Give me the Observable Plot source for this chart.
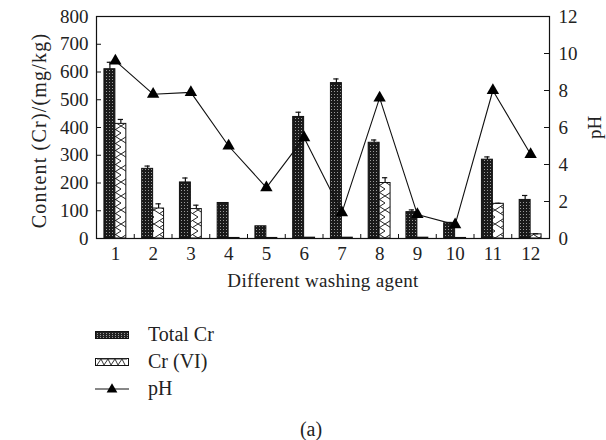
<!DOCTYPE html>
<html>
<head>
<meta charset="utf-8">
<script src="https://cdn.jsdelivr.net/npm/d3@7"></script>
<script src="https://cdn.jsdelivr.net/npm/@observablehq/plot@0.6"></script>
<style>
  body { margin: 0; background: #fff; font-family: "Liberation Serif", serif; }
  #chart { width: 606px; height: 300px; }
  #chart > svg { display: block; }
  .legend { margin-left: 95px; margin-top: 21px; font-size: 20px; color: #222; }
  .legend .row { display: flex; align-items: center; height: 27px; }
  .legend .sw { display: block; margin-right: 19px; }
  .caption { margin-top: 15px; width: 606px; height: 24px; line-height: 24px; text-align: center; font-size: 20px; color: #222; padding-left: 16px; box-sizing: border-box; }
  #err { color: red; font-size: 11px; }
</style>
</head>
<body>
<div id="chart"></div>
<div class="legend" id="legend"></div>
<div class="caption">(a)</div>
<div id="err"></div>
<script>
// ---- data ----
const agents   = [1, 2, 3, 4, 5, 6, 7, 8, 9, 10, 11, 12];
const totalCr  = [610, 251, 202, 128, 44, 438, 560, 345, 95, 55, 284, 139];
const totalErr = [25, 10, 16, 2, 2, 17, 15, 10, 8, 3, 10, 16];
const crVI     = [413, 108, 106, 2, 2, 3, 3, 200, 3, 2, 125, 15];
const crVIErr  = [16, 17, 14, 0, 0, 0, 0, 19, 0, 0, 2, 2];
const pH       = [9.6, 7.8, 7.9, 5.0, 2.75, 5.45, 1.4, 7.6, 1.3, 0.75, 8.0, 4.55];
const leftTicks  = [0, 100, 200, 300, 400, 500, 600, 700, 800];
const rightTicks = [0, 2, 4, 6, 8, 10, 12];
const legendLabels = ["Total Cr", "Cr (VI)", "pH"];

try {
const yMax = 800, pHMax = 12;
const k = yMax / pHMax;           // pH -> content axis mapping
const bw = 0.29;                  // bar width in category units
const capW = 0.07;

const rows = agents.map((a, i) => ({
  a, total: totalCr[i], tErr: totalErr[i], vi: crVI[i], vErr: crVIErr[i], ph: pH[i]
}));

const tickLx = 5 / 37.75, tickLy = 4 / (222 / 800);

const plot = Plot.plot({
  width: 606,
  height: 300,
  marginTop: 16,
  marginBottom: 62,
  marginLeft: 96,
  marginRight: 57,
  style: { fontFamily: "Liberation Serif, serif", fontSize: "19px", color: "#222", background: "white" },
  x: { domain: [0.5, 12.5], axis: null },
  y: { domain: [0, yMax], axis: null },
  marks: [
    Plot.rectY(rows, { x1: d => d.a - bw, x2: d => d.a, y1: 0, y2: "total", fill: "url(#dots)", stroke: "#111", strokeWidth: 1 }),
    Plot.rectY(rows, { x1: d => d.a, x2: d => d.a + bw, y1: 0, y2: "vi", fill: "url(#zig)", stroke: "#111", strokeWidth: 1 }),
    Plot.ruleX(rows.filter(d => d.tErr > 2), { x: d => d.a - bw / 2, y1: "total", y2: d => d.total + d.tErr, stroke: "#111", strokeWidth: 1.2 }),
    Plot.ruleY(rows.filter(d => d.tErr > 2), { y: d => d.total + d.tErr, x1: d => d.a - bw / 2 - capW, x2: d => d.a - bw / 2 + capW, stroke: "#111", strokeWidth: 1.2 }),
    Plot.ruleX(rows.filter(d => d.vErr > 1), { x: d => d.a + bw / 2, y1: "vi", y2: d => d.vi + d.vErr, stroke: "#111", strokeWidth: 1.2 }),
    Plot.ruleY(rows.filter(d => d.vErr > 1), { y: d => d.vi + d.vErr, x1: d => d.a + bw / 2 - capW, x2: d => d.a + bw / 2 + capW, stroke: "#111", strokeWidth: 1.2 }),
    Plot.line(rows, { x: "a", y: d => d.ph * k, stroke: "#111", strokeWidth: 1.1 }),
    Plot.dot(rows, { x: "a", y: d => d.ph * k, symbol: "triangle", r: 4.6, fill: "#000", stroke: "none" }),
    Plot.frame({ stroke: "#111", strokeWidth: 1.2 }),
    Plot.ruleY(leftTicks, { y: d => d, x1: 0.5, x2: 0.5 + tickLx, stroke: "#111" }),
    Plot.ruleY(rightTicks, { y: d => d * k, x1: 12.5 - tickLx, x2: 12.5, stroke: "#111" }),
    Plot.ruleX(agents.slice(0, -1), { x: d => d + 0.5, y1: 0, y2: tickLy, stroke: "#111" }),
    Plot.text(leftTicks, { x: 0.5, y: d => d, text: d => String(d), textAnchor: "end", dx: -8, fill: "#222" }),
    Plot.text(rightTicks, { x: 12.5, y: d => d * k, text: d => String(d), textAnchor: "start", dx: 9, fill: "#222" }),
    Plot.text(agents, { x: d => d, y: 0, text: d => String(d), dy: 15, fill: "#222" }),
    Plot.text(["Different washing agent"], { frameAnchor: "bottom", textAnchor: "middle", dy: 48, fill: "#222", className: "xlab" }),
    Plot.text(["Content (Cr)/(mg/kg)"], { frameAnchor: "left", textAnchor: "middle", dx: -57, dy: 3, rotate: -90, fill: "#222", fontSize: 20, className: "ylab" }),
    Plot.text(["pH"], { frameAnchor: "right", textAnchor: "middle", dx: 45, rotate: -90, fill: "#222" })
  ]
});

const svg = d3.select(plot);
svg.selectAll("g.ylab text").style("letter-spacing", "1.2px");
svg.selectAll("g.xlab text").style("letter-spacing", "0.35px");
const defs = svg.insert("defs", ":first-child");
const p1 = defs.append("pattern").attr("id", "dots").attr("patternUnits", "userSpaceOnUse").attr("width", 3).attr("height", 3);
p1.append("rect").attr("width", 3).attr("height", 3).attr("fill", "#1a1a1a");
p1.append("rect").attr("x", 1).attr("y", 1).attr("width", 1).attr("height", 1).attr("fill", "#9a9a9a");
const p2 = defs.append("pattern").attr("id", "zig").attr("patternUnits", "userSpaceOnUse").attr("width", 11).attr("height", 14);
p2.append("rect").attr("width", 11).attr("height", 14).attr("fill", "#fff");
p2.append("path").attr("d", "M0,0 L11,7 L0,14 M11,0 L5.5,3.5 M11,14 L5.5,10.5").attr("stroke", "#222").attr("stroke-width", 1).attr("fill", "none");

document.getElementById("chart").appendChild(plot);

// legend
const legend = document.getElementById("legend");
const kinds = ["dots", "zig", "line"];
legendLabels.forEach((label, i) => {
  const kind = kinds[i];
  const row = document.createElement("div");
  row.className = "row";
  const s = d3.create("svg").attr("class", "sw").attr("width", 34).attr("height", 14);
  if (kind === "line") {
    s.append("line").attr("x1", 0).attr("x2", 34).attr("y1", 7).attr("y2", 7).attr("stroke", "#111");
    s.append("path").attr("d", d3.symbol(d3.symbolTriangle, 50)()).attr("transform", "translate(17,7.5)").attr("fill", "#000");
  } else {
    s.append("rect").attr("x", 0.5).attr("y", 3.5).attr("width", 33).attr("height", 7)
      .attr("fill", kind === "dots" ? "#222" : "#fff").attr("stroke", "#111");
    if (kind === "zig") {
      s.append("path").attr("d", "M2,10 L6,4 L9,10 L13,4 L16,10 L20,4 L23,10 L27,4 L30,10 M2,4 L32,4").attr("stroke", "#333").attr("fill", "none");
    } else {
      for (let x = 2; x < 33; x += 3) for (let y = 5; y < 10; y += 2)
        s.append("rect").attr("x", x).attr("y", y).attr("width", 1).attr("height", 1).attr("fill", "#999");
    }
  }
  row.appendChild(s.node());
  const t = document.createElement("span");
  t.textContent = label;
  row.appendChild(t);
  legend.appendChild(row);
});
} catch (e) {
  document.getElementById("err").textContent = String(e && e.stack || e);
}
</script>
</body>
</html>
